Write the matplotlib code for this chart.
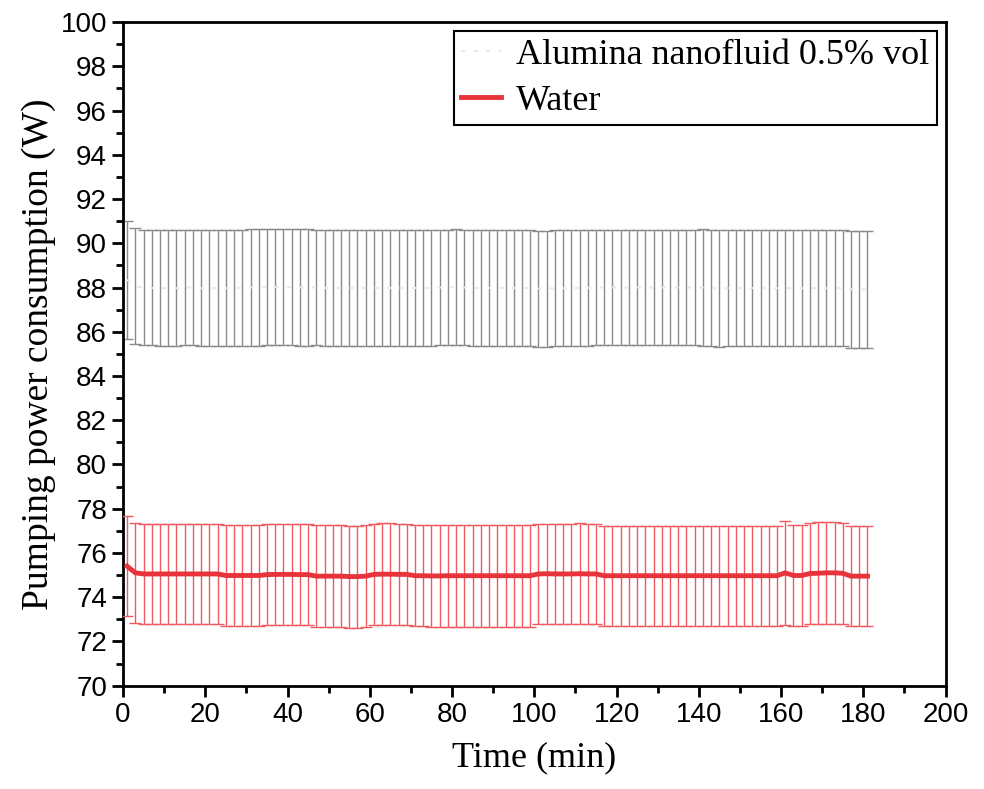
import numpy as np
import matplotlib.pyplot as plt
from matplotlib.ticker import MultipleLocator

# time (min), one reading every 2 min
time_min = list(range(1, 182, 2))

water = [75.40, 75.10, 75.05, 75.05, 75.05, 75.05, 75.05, 75.05, 75.05, 75.05,
         75.05, 75.05, 74.98, 74.98, 74.98, 74.98, 74.98, 75.02, 75.03, 75.03,
         75.03, 75.02, 75.02, 74.95, 74.95, 74.95, 74.95, 74.93, 74.93, 74.95,
         75.03, 75.04, 75.04, 75.03, 75.03, 74.97, 74.97, 74.96, 74.96, 74.97,
         74.97, 74.97, 74.97, 74.97, 74.97, 74.97, 74.97, 74.97, 74.97, 74.97,
         75.05, 75.06, 75.05, 75.05, 75.05, 75.06, 75.05, 75.05, 74.97, 74.97,
         74.97, 74.97, 74.97, 74.97, 74.97, 74.97, 74.97, 74.97, 74.97, 74.97,
         74.97, 74.97, 74.97, 74.97, 74.97, 74.97, 74.97, 74.97, 74.97, 74.97,
         75.10, 74.98, 74.98, 75.07, 75.08, 75.10, 75.10, 75.08, 74.95, 74.95,
         74.95]
water_err = [2.27, 2.25, 2.27, 2.27, 2.28, 2.28, 2.27, 2.27, 2.28, 2.28,
             2.28, 2.28, 2.30, 2.30, 2.30, 2.30, 2.29, 2.29, 2.29, 2.29,
             2.29, 2.29, 2.30, 2.31, 2.31, 2.30, 2.30, 2.31, 2.31, 2.30,
             2.30, 2.30, 2.30, 2.30, 2.30, 2.29, 2.29, 2.29, 2.30, 2.30,
             2.30, 2.30, 2.30, 2.30, 2.30, 2.30, 2.30, 2.30, 2.30, 2.30,
             2.27, 2.27, 2.27, 2.28, 2.28, 2.28, 2.27, 2.27, 2.27, 2.27,
             2.27, 2.27, 2.27, 2.27, 2.27, 2.27, 2.27, 2.27, 2.27, 2.27,
             2.27, 2.27, 2.27, 2.27, 2.27, 2.27, 2.27, 2.27, 2.27, 2.27,
             2.35, 2.28, 2.28, 2.30, 2.30, 2.30, 2.30, 2.28, 2.27, 2.27,
             2.27]

alumina = [88.35, 88.05, 88.00, 87.98, 87.97, 87.97, 87.97, 88.00, 88.00, 87.97,
           87.97, 87.97, 87.97, 87.98, 87.98, 88.00, 88.00, 88.02, 88.02, 88.02,
           88.02, 88.00, 88.00, 88.00, 87.98, 87.98, 87.98, 87.98, 87.98, 87.98,
           87.98, 87.98, 87.98, 87.98, 87.98, 87.98, 87.98, 87.98, 88.00, 88.00,
           88.02, 88.00, 87.98, 87.98, 87.98, 87.98, 87.98, 87.98, 87.98, 87.98,
           87.95, 87.95, 87.97, 87.97, 87.97, 87.98, 87.98, 88.00, 88.00, 88.00,
           88.00, 88.00, 88.00, 88.00, 88.00, 88.00, 88.00, 88.00, 88.00, 88.00,
           88.00, 87.97, 87.95, 87.97, 87.97, 87.97, 87.97, 87.97, 87.97, 87.97,
           87.97, 87.97, 87.97, 87.97, 87.97, 87.97, 87.97, 87.97, 87.92, 87.92,
           87.90]
alumina_err = [2.67, 2.62, 2.60, 2.60, 2.62, 2.62, 2.62, 2.62, 2.62, 2.62,
               2.62, 2.62, 2.62, 2.62, 2.63, 2.63, 2.63, 2.63, 2.63, 2.63,
               2.63, 2.63, 2.63, 2.62, 2.62, 2.62, 2.62, 2.62, 2.62, 2.62,
               2.62, 2.62, 2.62, 2.62, 2.62, 2.62, 2.62, 2.62, 2.62, 2.62,
               2.63, 2.62, 2.62, 2.62, 2.62, 2.62, 2.62, 2.62, 2.62, 2.62,
               2.62, 2.62, 2.62, 2.62, 2.62, 2.62, 2.62, 2.62, 2.62, 2.62,
               2.62, 2.62, 2.62, 2.62, 2.62, 2.62, 2.62, 2.62, 2.62, 2.62,
               2.63, 2.63, 2.65, 2.62, 2.62, 2.62, 2.62, 2.62, 2.62, 2.62,
               2.62, 2.62, 2.62, 2.62, 2.62, 2.62, 2.62, 2.62, 2.65, 2.65,
               2.65]

SERIF = "Liberation Serif"
SANS = "Liberation Sans"
CLR_RED = "#e8333a"

fig = plt.figure(figsize=(9.84, 7.89), dpi=100)
ax = fig.add_axes([0.125, 0.131, 0.836, 0.841])

ax.errorbar(time_min, alumina, yerr=alumina_err, color="#e8e8e8", lw=1.5,
            ls=(0, (2, 4)), ecolor="#8a8a8a", elinewidth=1.0, capsize=4,
            capthick=1.0, label="Alumina nanofluid 0.5% vol", zorder=2)
ax.errorbar(time_min, water, yerr=water_err, color=CLR_RED, lw=3.5,
            ecolor="#ee5a60", elinewidth=1.0, capsize=4, capthick=1.0,
            label="Water", zorder=3)

ax.set_xlim(0, 200)
ax.set_ylim(70, 100)
ax.xaxis.set_major_locator(MultipleLocator(20))
ax.xaxis.set_minor_locator(MultipleLocator(10))
ax.yaxis.set_major_locator(MultipleLocator(2))
ax.yaxis.set_minor_locator(MultipleLocator(1))
ax.tick_params(which="both", direction="out", top=False, right=False,
               width=2, labelsize=20)
ax.tick_params(which="major", length=8)
ax.tick_params(which="minor", length=5)
for lab in ax.get_xticklabels() + ax.get_yticklabels():
    lab.set_fontfamily(SANS)
for sp in ax.spines.values():
    sp.set_linewidth(2)

ax.set_xlabel("Time (min)", fontsize=26, fontfamily=SERIF, labelpad=10)
ax.set_ylabel("Pumping power consumption (W)", fontsize=27, fontfamily=SERIF,
              labelpad=3)

h, l = ax.get_legend_handles_labels()
leg = ax.legend([hh[0] for hh in h], l, loc="upper right",
                prop={"family": SERIF, "size": 26}, frameon=True,
                fancybox=False, edgecolor="black", framealpha=1,
                handlelength=1.1, handletextpad=0.42, borderpad=0.2,
                borderaxespad=0.25, labelspacing=0.35)
leg.get_frame().set_linewidth(1.5)

fig.savefig("out.png", dpi=100)
